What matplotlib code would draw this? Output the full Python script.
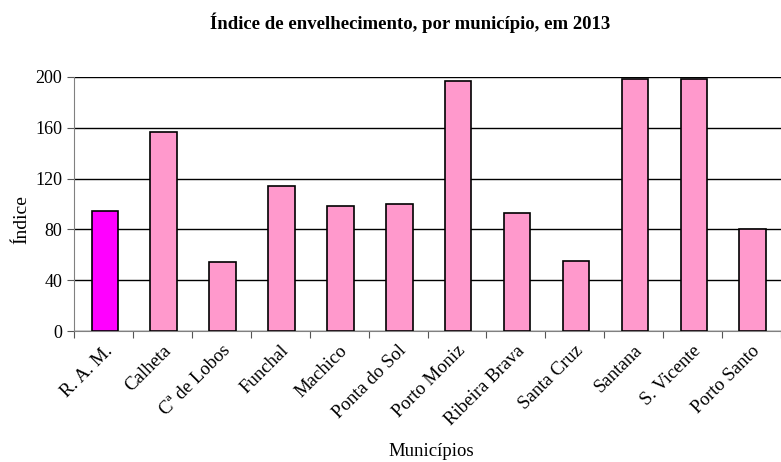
import matplotlib
matplotlib.use("Agg")
import matplotlib.pyplot as plt
import numpy as np

municipios = ["R. A. M.", "Calheta", "Cª de Lobos", "Funchal", "Machico", "Ponta do Sol",
              "Porto Moniz", "Ribeira Brava", "Santa Cruz", "Santana", "S. Vicente", "Porto Santo"]
indice = [94.5, 156.5, 54.5, 114, 98.5, 100, 197, 93, 55, 198.5, 198, 80.5]
yticks = [0, 40, 80, 120, 160, 200]

plt.rcParams["font.family"] = ["Liberation Serif", "DejaVu Serif"]

fig = plt.figure(figsize=(7.81, 4.62), dpi=100, facecolor="white")
ax = fig.add_axes([0.095, 0.2835, 0.905, 0.55])

x = np.arange(len(municipios))
colors = ["#FF00FF"] + ["#FF99CC"] * (len(municipios) - 1)
ax.bar(x + 0.02, indice, width=0.45, color=colors, edgecolor="black", linewidth=1.2, zorder=3)

ax.set_ylim(0, 200)
ax.set_xlim(-0.5, len(municipios) - 0.5)
ax.set_yticks(yticks)
ax.set_yticklabels([str(t) for t in yticks], fontsize=13)
ax.yaxis.grid(True, color="black", linewidth=1, zorder=0)

# ticks between categories
ax.set_xticks(np.arange(len(municipios) + 1) - 0.5, minor=False)
ax.set_xticklabels([])
ax.set_xticks(x, minor=True)
ax.set_xticklabels(municipios, minor=True, rotation=45, ha="right", rotation_mode="anchor", fontsize=13.5)
ax.tick_params(axis="x", which="minor", length=0, pad=8)
ax.tick_params(axis="x", which="major", length=5, color="#555555", direction="out")
ax.tick_params(axis="y", length=5, color="#555555", direction="out")

for s in ["top", "right"]:
    ax.spines[s].set_visible(False)
ax.spines["left"].set_color("#808080")
ax.spines["bottom"].set_color("#808080")

ax.set_ylabel("Índice", fontsize=14)
ax.yaxis.set_label_coords(-0.062, 0.44)
fig.text(0.552, 0.022, "Municípios", ha="center", va="center", fontsize=13.5)
fig.text(0.525, 0.950, "Índice de envelhecimento, por município, em 2013",
         ha="center", va="center", fontsize=13.5, fontweight="bold")

fig.savefig("out.png", dpi=100, facecolor="white")
